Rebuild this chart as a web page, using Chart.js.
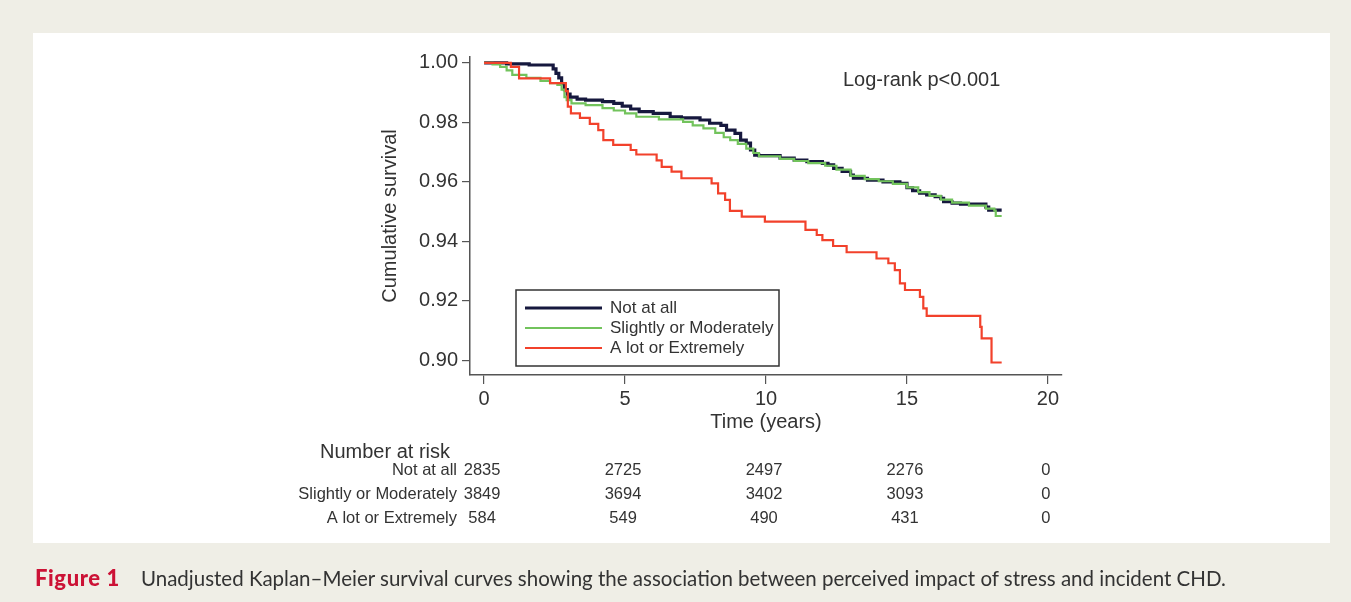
<!DOCTYPE html>
<html><head><meta charset="utf-8">
<script src="https://cdn.jsdelivr.net/npm/chart.js@4.4.1/dist/chart.umd.min.js"></script>
<style>
html,body{margin:0;padding:0;width:1351px;height:602px;overflow:hidden;background:#efeee6;}
#panel{position:absolute;left:33px;top:33px;width:1297px;height:510px;background:#fff;}
#wrap{position:absolute;left:0;top:0;width:1351px;height:602px;}
#cap{position:absolute;left:35px;top:564px;font-family:Lato,"Open Sans",sans-serif;font-size:20.5px;color:#333;white-space:nowrap;line-height:28px;}
#cap b{color:#cc1236;font-weight:900;font-size:22px;letter-spacing:0.6px;margin-right:21px;}
</style></head>
<body>
<div id="panel"></div>
<div id="wrap"><canvas id="c" width="1351" height="602"></canvas></div>
<div id="cap"><b>Figure 1</b>Unadjusted Kaplan–Meier survival curves showing the association between perceived impact of stress and incident CHD.</div>
<script>
const seriesNames = ['Not at all', 'Slightly or Moderately', 'A lot or Extremely'];

const notAtAllTime = [0, 0.8, 1.6, 2.45, 2.55, 2.65, 2.75, 2.85, 2.95, 3.05, 3.3, 3.6, 4.2, 4.6, 4.9, 5.2, 5.5, 6.0, 6.6, 7.0, 7.66, 8.0, 8.4, 8.6, 8.9, 9.1, 9.3, 9.45, 9.6, 9.75, 10.5, 11.0, 11.45, 12.0, 12.2, 12.4, 12.7, 13.0, 13.1, 13.6, 14.15, 14.75, 15.0, 15.2, 15.45, 15.7, 16.0, 16.2, 16.3, 16.6, 16.9, 17.8, 17.9, 18.36];
const notAtAllSurv = [1.0, 0.9997, 0.9993, 0.998, 0.9965, 0.995, 0.993, 0.991, 0.9895, 0.9885, 0.9878, 0.9875, 0.987, 0.9864, 0.9855, 0.9845, 0.9836, 0.983, 0.9819, 0.9815, 0.9808, 0.9797, 0.979, 0.9774, 0.9763, 0.974, 0.973, 0.9707, 0.969, 0.9688, 0.968, 0.9673, 0.9668, 0.9662, 0.9657, 0.9645, 0.9635, 0.9623, 0.9612, 0.9606, 0.96, 0.9595, 0.958, 0.957, 0.9562, 0.9556, 0.955, 0.9544, 0.9533, 0.9528, 0.9525, 0.9515, 0.9505, 0.9505];

const slightlyTime = [0, 0.3, 0.57, 0.8, 1.0, 1.5, 2.0, 2.34, 2.6, 2.75, 2.85, 2.93, 3.1, 3.6, 4.2, 4.6, 5.0, 5.4, 6.2, 7.06, 7.4, 7.78, 8.2, 8.5, 8.73, 9.0, 9.3, 9.55, 9.75, 10.5, 11.0, 11.5, 12.1, 12.5, 13.0, 13.5, 14.0, 14.5, 15.0, 15.4, 15.8, 16.2, 16.6, 17.2, 17.8, 18.1, 18.15, 18.36];
const slightlySurv = [1.0, 0.9995, 0.9987, 0.9975, 0.996, 0.995, 0.994, 0.9932, 0.9926, 0.991, 0.9885, 0.9875, 0.9864, 0.9858, 0.9848, 0.984, 0.983, 0.9819, 0.981, 0.9802, 0.979, 0.978, 0.9765, 0.975, 0.974, 0.9728, 0.9712, 0.9697, 0.9686, 0.9677, 0.967, 0.9663, 0.9654, 0.9641, 0.962, 0.9609, 0.9602, 0.9593, 0.9581, 0.9565, 0.9553, 0.954, 0.953, 0.952, 0.951, 0.9503, 0.9485, 0.9485];

const aLotTime = [0, 0.95, 1.24, 2.34, 2.9, 2.97, 3.08, 3.4, 3.75, 4.05, 4.23, 4.58, 5.2, 5.4, 6.12, 6.3, 6.65, 7.0, 8.07, 8.3, 8.55, 8.72, 9.14, 9.96, 11.4, 11.8, 12.0, 12.38, 12.86, 13.92, 14.34, 14.57, 14.75, 14.93, 15.46, 15.58, 15.7, 17.6, 17.65, 18.0, 18.36];
const aLotSurv = [1.0, 0.9987, 0.9948, 0.9932, 0.9905, 0.9853, 0.983, 0.9815, 0.9795, 0.9774, 0.974, 0.9724, 0.9707, 0.9692, 0.9672, 0.965, 0.9634, 0.9612, 0.9595, 0.9561, 0.9539, 0.9502, 0.9483, 0.9466, 0.9438, 0.9421, 0.9404, 0.9384, 0.9363, 0.9342, 0.9326, 0.9303, 0.9258, 0.9236, 0.9213, 0.9174, 0.9149, 0.9112, 0.9073, 0.8992, 0.8992];

const xTickValues = [0, 5, 10, 15, 20];
const yTickValues = [0.90, 0.92, 0.94, 0.96, 0.98, 1.00];
const riskTimes = [0, 5, 10, 15, 20];
const riskNotAtAll = [2835, 2725, 2497, 2276, 0];
const riskSlightly = [3849, 3694, 3402, 3093, 0];
const riskALot = [584, 549, 490, 431, 0];
const logRankText = 'Log-rank p<0.001';
const riskTitle = 'Number at risk';

const colors = ['#16183e', '#72c35c', '#f2412b'];
const zip = (t, s) => t.map((v, i) => ({x: v, y: s[i]}));
const FONT = '"Liberation Sans", Arial, sans-serif';
const TXT = '#333';

const overlay = {
  id: 'overlay',
  afterDraw(chart) {
    const ctx = chart.ctx;
    const xs = chart.scales.x;
    ctx.save();
    ctx.fillStyle = TXT;
    ctx.font = '20px ' + FONT;
    ctx.textAlign = 'left';
    ctx.textBaseline = 'middle';
    ctx.fillText(logRankText, 843, 80);
    const bx = 516, by = 290, bw = 263, bh = 76;
    ctx.strokeStyle = '#333';
    ctx.lineWidth = 1.5;
    ctx.fillStyle = '#fff';
    ctx.fillRect(bx, by, bw, bh);
    ctx.strokeRect(bx, by, bw, bh);
    ctx.font = '17px ' + FONT;
    chart.data.datasets.forEach((ds, i) => {
      const yy = 308 + i * 20;
      ctx.strokeStyle = ds.borderColor;
      ctx.lineWidth = ds.borderWidth;
      ctx.beginPath();
      ctx.moveTo(525, yy);
      ctx.lineTo(602, yy);
      ctx.stroke();
      ctx.fillStyle = TXT;
      ctx.fillText(ds.label, 610, yy);
    });
    ctx.fillStyle = TXT;
    ctx.font = '20px ' + FONT;
    ctx.textAlign = 'left';
    ctx.fillText(riskTitle, 320, 452);
    ctx.font = '16.5px ' + FONT;
    const rows = [riskNotAtAll, riskSlightly, riskALot];
    rows.forEach((r, i) => {
      const yy = 470 + i * 24;
      ctx.textAlign = 'right';
      ctx.fillText(seriesNames[i], 457, yy);
      ctx.textAlign = 'center';
      r.forEach((n, j) => {
        ctx.fillText(String(n), xs.getPixelForValue(riskTimes[j]) - 2, yy);
      });
    });
    ctx.restore();
  }
};

new Chart(document.getElementById('c'), {
  type: 'line',
  data: {
    datasets: [
      {label: seriesNames[0], data: zip(notAtAllTime, notAtAllSurv), borderColor: colors[0], borderWidth: 3.2, stepped: true, pointRadius: 0, order: 2},
      {label: seriesNames[1], data: zip(slightlyTime, slightlySurv), borderColor: colors[1], borderWidth: 2.2, stepped: true, pointRadius: 0, order: 1},
      {label: seriesNames[2], data: zip(aLotTime, aLotSurv), borderColor: colors[2], borderWidth: 2.2, stepped: true, pointRadius: 0, order: 0}
    ]
  },
  options: {
    responsive: false,
    animation: false,
    devicePixelRatio: 1,
    layout: {padding: {left: 360, top: 57, right: 289, bottom: 167}},
    plugins: {legend: {display: false}, tooltip: {enabled: false}},
    scales: {
      x: {
        type: 'linear', min: -0.5, max: 20.5,
        afterBuildTicks: s => { s.ticks = xTickValues.map(v => ({value: v})); },
        afterFit: s => { s.height = 60; },
        ticks: {font: {family: FONT, size: 20}, color: TXT, padding: 3, maxRotation: 0, callback: v => String(v)},
        grid: {display: true, drawOnChartArea: false, drawTicks: true, tickLength: 9, color: '#555', lineWidth: 1.2},
        border: {display: true, color: '#555', width: 1.5},
        title: {display: true, text: 'Time (years)', font: {family: FONT, size: 20}, color: TXT, padding: {top: 0, bottom: 1}}
      },
      y: {
        type: 'linear', min: 0.895, max: 1.002,
        afterBuildTicks: s => { s.ticks = yTickValues.map(v => ({value: v})); },
        afterFit: s => { s.width = 110; },
        ticks: {font: {family: FONT, size: 20}, color: TXT, padding: 4, callback: v => v.toFixed(2)},
        grid: {display: true, drawOnChartArea: false, drawTicks: true, tickLength: 8, color: '#555', lineWidth: 1.2},
        border: {display: true, color: '#555', width: 1.5},
        title: {display: true, text: 'Cumulative survival', font: {family: FONT, size: 20}, color: TXT, padding: {top: 18, bottom: 0}}
      }
    }
  },
  plugins: [overlay]
});
</script>
</body></html>
